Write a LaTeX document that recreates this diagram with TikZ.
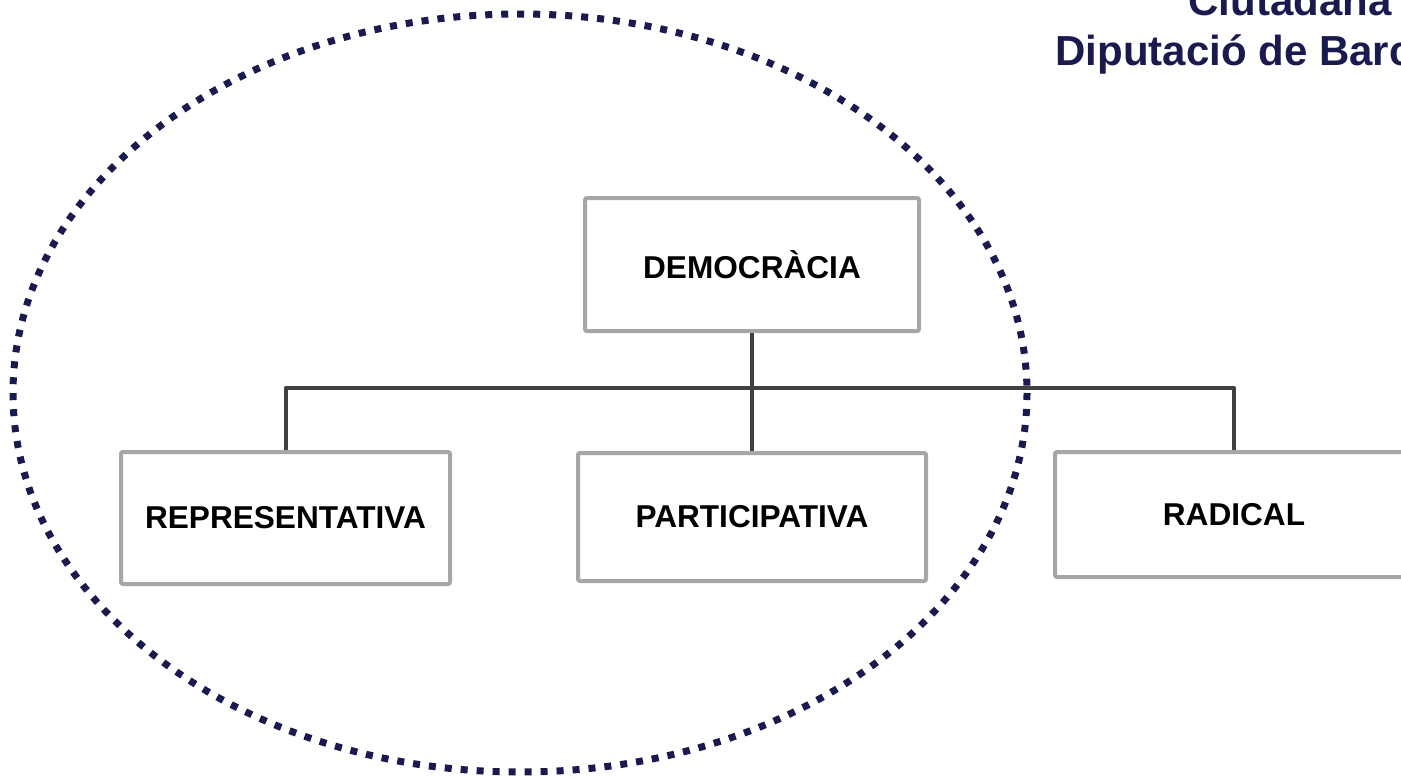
\documentclass[tikz,border=0pt]{standalone}
\usepackage{fontspec}
\setmainfont{Liberation Sans}
\usepackage{xcolor}
\usepackage{tikz}
\usetikzlibrary{calc}
\usetikzlibrary{positioning}
\definecolor{boxgray}{HTML}{A6A6A6}
\definecolor{linegray}{HTML}{404040}
\definecolor{navy}{HTML}{1B1A4F}

\begin{document}
\begin{tikzpicture}[x=0.5pt, y=-0.5pt,
    kind/.style={draw=boxgray, line width=2pt, rounded corners=1pt, fill=white,
      font=\fontsize{15.8}{18}\selectfont\bfseries, text=black},
    conn/.style={draw=linegray, line width=2pt, line join=round},
    title/.style={anchor=base west, inner sep=0pt, text=navy,
      font=\fontsize{21}{24}\selectfont\bfseries}]
    \clip (0,0) rectangle (1401,777);
    \useasboundingbox (0,0) rectangle (1401,777);
    \node[title] (T1) at (1188,15) {Ciutadana};
    \node[title] (T2) at (1055,65) {Diputació de Barc};
    \node[kind, minimum width=167pt, minimum height=66.5pt] (D) at (752,264.5) {DEMOCRÀCIA};
    \node[kind, minimum width=164.5pt, minimum height=66pt] (R1) at (285.5,518) {REPRESENTATIVA};
    \node[kind, minimum width=174pt, minimum height=64pt] (R2) at (752,517) {PARTICIPATIVA};
    \node[kind, minimum width=179pt, minimum height=62.5pt] (R3) at (1234,514.5) {RADICAL};
    \coordinate (bus) at (752,388);
    \path [conn] (D) edge (R2);
    \draw [conn] (R1.north) |- (bus) -| (R3.north);
    \draw [navy, line width=3.5pt, dash pattern=on 3.5pt off 4.5pt] (520,393) ellipse [x radius=507, y radius=379];
  \end{tikzpicture}
\end{document}
